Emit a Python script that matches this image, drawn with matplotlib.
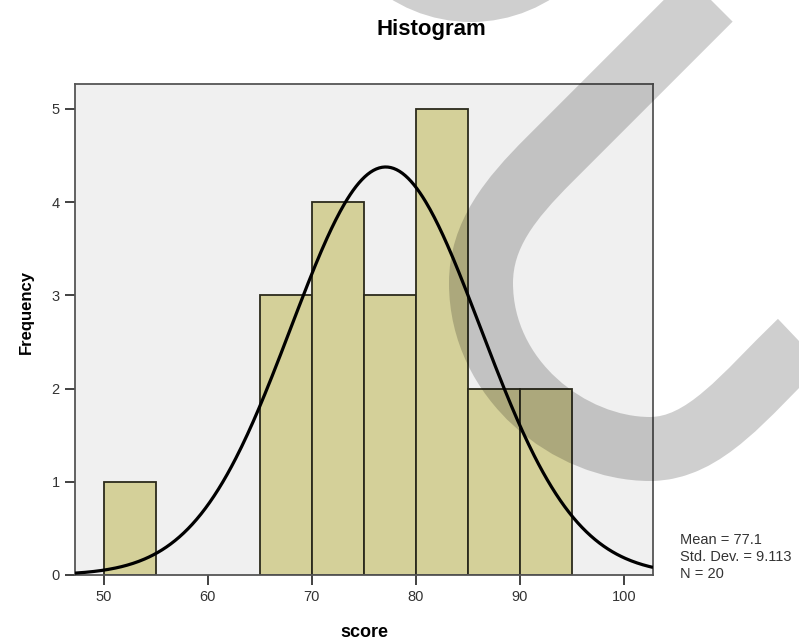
import numpy as np
import matplotlib.pyplot as plt
from matplotlib.path import Path
from matplotlib.patches import PathPatch, Circle

plt.rcParams['font.family'] = ['Liberation Sans', 'DejaVu Sans']

# data
bin_starts = [50, 55, 60, 65, 70, 75, 80, 85, 90]
counts = [1, 0, 0, 3, 4, 3, 5, 2, 2]
bin_width = 5
mean = 77.1
std = 9.113
n = 20

W, H = 799, 640
fig = plt.figure(figsize=(W / 100, H / 100), dpi=100)
fig.patch.set_facecolor('white')
ax = fig.add_axes([75 / W, 1 - 575 / H, (653 - 75) / W, (575 - 84) / H])
ax.set_facecolor('#f0f0f0')

for s, c in zip(bin_starts, counts):
    if c > 0:
        ax.bar(s, c, width=bin_width, align='edge', color='#d4d099',
               edgecolor='#2b2a1c', linewidth=1.3, zorder=2)

# normal curve scaled to counts
xs = np.linspace(47.21, 102.82, 400)
ys = n * bin_width * np.exp(-0.5 * ((xs - mean) / std) ** 2) / (std * np.sqrt(2 * np.pi))
ax.plot(xs, ys, color='black', linewidth=2.3, zorder=3, solid_capstyle='butt')

ax.set_xlim(47.21, 102.82)
ax.set_ylim(0, 5.268)
ax.set_xticks([50, 60, 70, 80, 90, 100])
ax.set_yticks([0, 1, 2, 3, 4, 5])
ax.tick_params(direction='out', length=7, width=1.3, color='#333333',
               labelsize=10.5, labelcolor='#333333', pad=4)
for sp in ax.spines.values():
    sp.set_color('#555555')
    sp.set_linewidth(1.3)

ax.set_xlabel('score', fontsize=13, fontweight='bold', labelpad=14)
fig.text(26 / W, 1 - 312 / H, 'Frequency', fontsize=12, fontweight='bold',
         rotation=90, ha='center', va='center')
fig.text(431 / W, 1 - 30 / H, 'Histogram', fontsize=16, fontweight='bold',
         ha='center', va='center')

fig.text(680 / W, 1 - 557 / H, 'Mean = 77.1\nStd. Dev. = 9.113\nN = 20',
         fontsize=10.5, color='#333333', va='center', ha='left',
         linespacing=1.25)

# grey watermark overlay (pixel coords, y down)
def px(x, y):
    return (x / W, 1 - y / H)

verts = [px(759, -50), px(549, 160),
         px(510, 199), px(481, 235), px(481, 283),
         px(481, 380), px(570, 449), px(650, 449),
         px(705, 449), px(745, 395), px(799, 343),
         px(860, 285)]
codes = [Path.MOVETO, Path.LINETO,
         Path.CURVE4, Path.CURVE4, Path.CURVE4,
         Path.CURVE4, Path.CURVE4, Path.CURVE4,
         Path.CURVE4, Path.CURVE4, Path.CURVE4,
         Path.LINETO]
band = PathPatch(Path(verts, codes), facecolor='none', edgecolor='black',
                 alpha=0.19, linewidth=64 * 0.72, capstyle='butt',
                 joinstyle='round', transform=fig.transFigure, zorder=10)
fig.add_artist(band)

blob = Circle((471, H + 129), 151, facecolor='black', edgecolor='none',
              alpha=0.19, transform=None, zorder=10)
fig.add_artist(blob)

fig.savefig('out.png', dpi=100)
